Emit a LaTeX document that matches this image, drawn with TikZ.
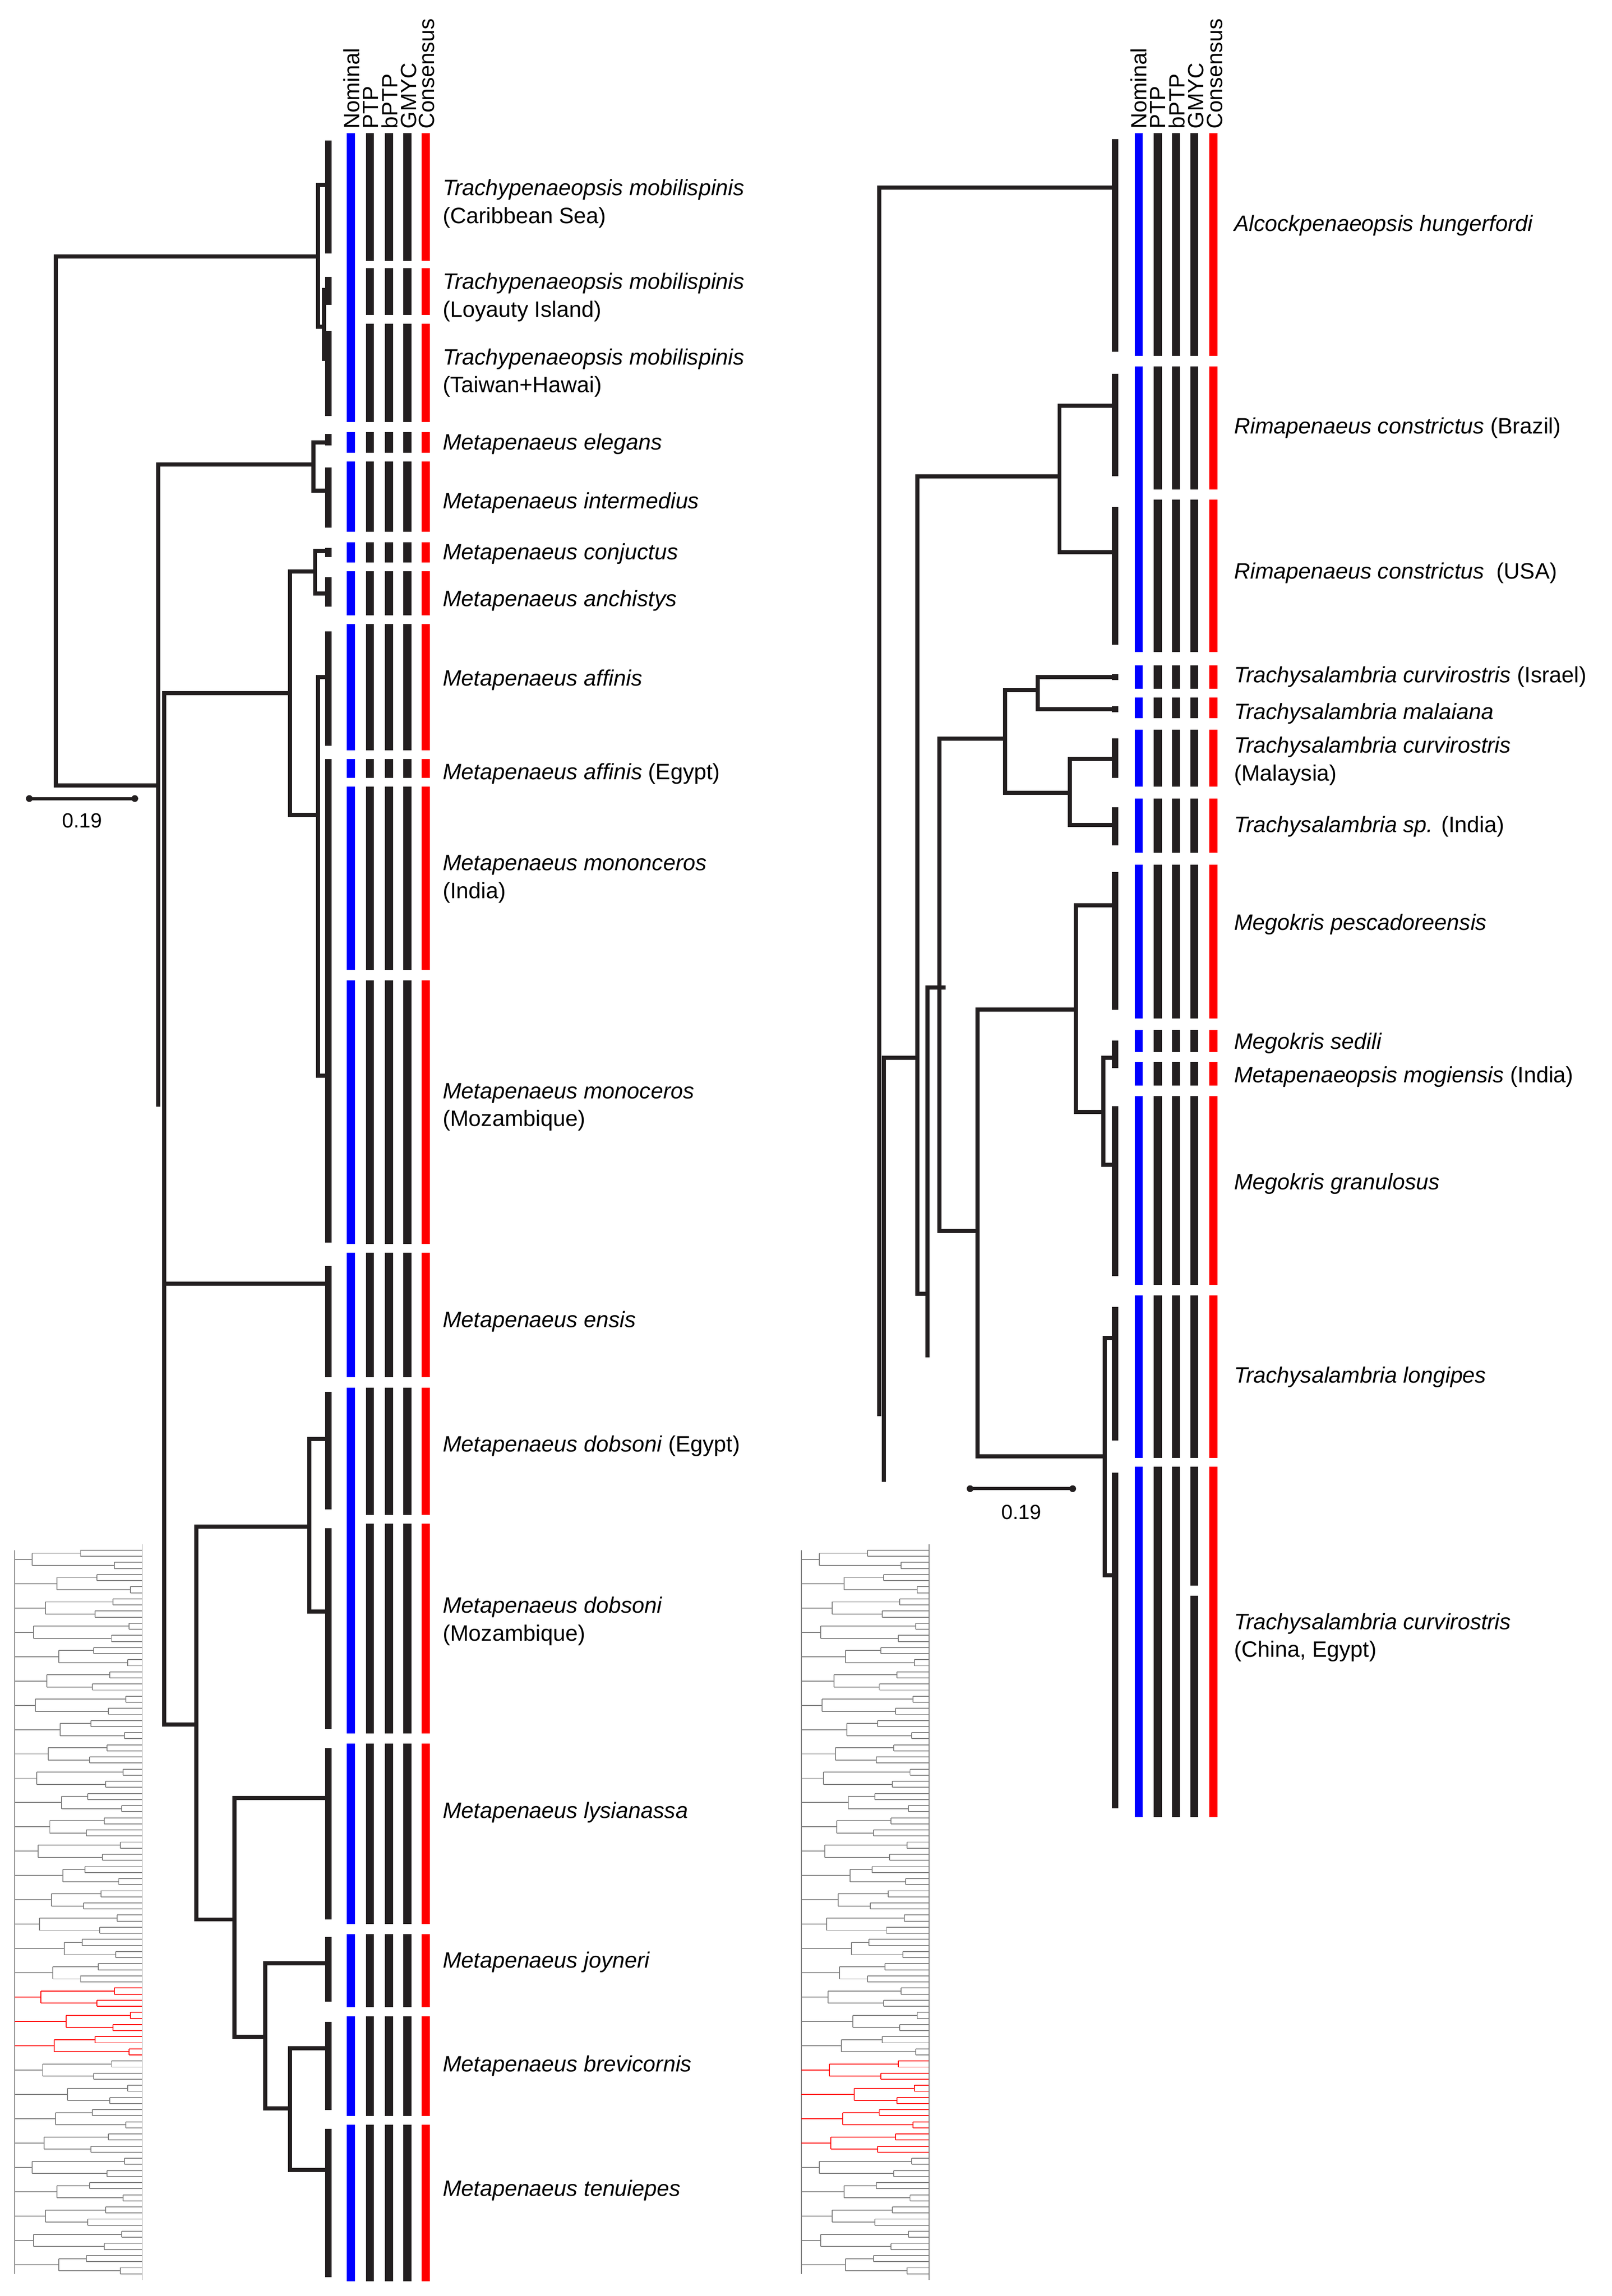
\documentclass[tikz,border=0pt]{standalone}
\usepackage{fontspec}
\setmainfont{Liberation Sans}
\definecolor{dk}{HTML}{231F20}
\definecolor{bl}{HTML}{0000FF}
\definecolor{rd}{HTML}{FF0000}
\begin{document}
\begin{tikzpicture}[x=1pt,y=-1pt,
  tr/.style={dk,line width=2.8pt,line cap=rect},
  comb/.style={dk,line width=4.5pt},
  bar/.style={line width=5.5pt},
  lab/.style={anchor=west,inner sep=0pt,font=\fontsize{15.2}{19}\selectfont\itshape,align=left},
  hd/.style={rotate=90,anchor=west,inner sep=0pt,font=\fontsize{15}{15}\selectfont},
  th/.style={gray,line width=0.6pt},
  thr/.style={rd,line width=0.6pt},
  sc/.style={dk,line width=2.2pt}]
\useasboundingbox (0,0) rectangle (1100,1567);
\newcommand\segs[3]{\foreach \a/\b in #3{\draw[bar,#2] (#1,\a)--(#1,\b);}}
\newcommand\thumb[3]{%
 \begin{scope}[xshift=#1]
 \draw[th] (10,1058)--(10,1552);
 \foreach \g in {0,...,29}{%
  \pgfmathtruncatemacro\isr{(\g>=#2)&&(\g<=#3)}%
  \ifnum\isr=1 \def\st{thr}\else\def\st{th}\fi
  \pgfmathsetmacro\xg{22+mod(\g*17,25)}%
  \pgfmathsetmacro\pa{2*\g}\pgfmathsetmacro\pb{2*\g+1}%
  \pgfmathsetmacro\xa{55+mod(\pa*23,35)}\pgfmathsetmacro\xb{55+mod(\pb*23,35)}%
  \pgfmathsetmacro\ya{1058+(4*\g)*4.15}\pgfmathsetmacro\yb{\ya+4.15}%
  \pgfmathsetmacro\yc{\ya+8.3}\pgfmathsetmacro\yd{\ya+12.45}%
  \pgfmathsetmacro\ma{\ya+2.07}\pgfmathsetmacro\mb{\yc+2.07}\pgfmathsetmacro\mg{\ya+6.22}%
  \draw[\st] (10,\mg)--(\xg,\mg) (\xg,\ma)--(\xg,\mb)
    (\xg,\ma)--(\xa,\ma) (\xa,\ya)--(\xa,\yb) (\xa,\ya)--(97,\ya) (\xa,\yb)--(97,\yb)
    (\xg,\mb)--(\xb,\mb) (\xb,\yc)--(\xb,\yd) (\xb,\yc)--(97,\yc) (\xb,\yd)--(97,\yd);
 }
 \draw[th] (97,1054)--(97,1556);
 \end{scope}}

% ================= LEFT PANEL =================
\node[hd] (hn1) at (240,88) {Nominal};
\node[hd] (hp1) at (253,88) {PTP};
\node[hd] (hb1) at (266,88) {bPTP};
\node[hd] (hg1) at (279,88) {GMYC};
\node[hd] (hc1) at (291,88) {Consensus};

\def\Lblue{91/288,295/309,315/363,370/384,390/420,426/512,518/531,537/662,669/849,855/940,947/1183,1190/1313,1320/1370,1376/1444,1450/1557}
\def\Lblack{91/178,183/215,221/288,295/309,315/363,370/384,390/420,426/512,518/531,537/662,669/849,855/940,947/1034,1040/1183,1190/1313,1320/1370,1376/1444,1450/1557}
\segs{239.5}{bl}{\Lblue}
\segs{252.5}{dk}{\Lblack}
\segs{265.5}{dk}{\Lblack}
\segs{278}{dk}{\Lblack}
\segs{290.5}{rd}{\Lblack}

% tree
\draw[tr] (38,175)--(38,536) (38,175)--(217,175) (38,536)--(108,536);
\draw[tr] (217,126)--(217,223) (217,126)--(224,126) (217,223)--(221,223) (221,198)--(221,245);
\draw[tr] (108,317)--(108,754) (108,317)--(214,317) (214,302)--(214,335) (214,302)--(225,302) (214,335)--(222,335);
\draw[tr] (112,473)--(112,1177) (112,473)--(198,473) (198,390)--(198,556) (198,390)--(215,390)
  (215,376)--(215,405) (215,376)--(225,376) (215,405)--(222,405)
  (198,556)--(217,556) (217,462)--(217,734) (217,462)--(222,462) (217,734)--(222,734);
\draw[tr] (112,876)--(222,876);
\draw[tr] (112,1177)--(134,1177) (134,1042)--(134,1310) (134,1042)--(211,1042) (211,982)--(211,1100)
  (211,982)--(222,982) (211,1100)--(222,1100)
  (134,1310)--(160,1310) (160,1227)--(160,1390) (160,1227)--(222,1227) (160,1390)--(181,1390)
  (181,1340)--(181,1439) (181,1340)--(222,1340) (181,1439)--(198,1439) (198,1398)--(198,1481)
  (198,1398)--(222,1398) (198,1481)--(222,1481);
\foreach \a/\b in {96/173,189/208,226/284,296/304,319/360,374/380,394/414,431/509,518/848,864/940,950/1030,1043/1180,1193/1310,1322/1366,1380/1440,1453/1554}
  {\draw[comb] (224,\a)--(224,\b);}
% scale bar
\draw[sc] (20,545)--(92,545); \fill[dk] (20,545) circle (2.3) (92,545) circle (2.3);
\node[inner sep=0pt,font=\fontsize{14}{14}\selectfont] (sl1) at (56,560) {0.19};

% labels left
\node[lab] (l1) at (302,139) {Trachypenaeopsis mobilispinis\\\upshape (Caribbean Sea)};
\node[lab] (l2) at (302,203) {Trachypenaeopsis mobilispinis\\\upshape (Loyauty Island)};
\node[lab] (l3) at (302,254.5) {Trachypenaeopsis mobilispinis\\\upshape (Taiwan+Hawai)};
\node[lab] (l4) at (302,303) {Metapenaeus elegans};
\node[lab] (l5) at (302,343) {Metapenaeus intermedius};
\node[lab] (l6) at (302,378) {Metapenaeus conjuctus};
\node[lab] (l7) at (302,410) {Metapenaeus anchistys};
\node[lab] (l8) at (302,464) {Metapenaeus affinis};
\node[lab] (l9) at (302,528) {Metapenaeus affinis \upshape(Egypt)};
\node[lab] (l10) at (302,600) {Metapenaeus mononceros\\\upshape (India)};
\node[lab] (l11) at (302,755.5) {Metapenaeus monoceros\\\upshape (Mozambique)};
\node[lab] (l12) at (302,902) {Metapenaeus ensis};
\node[lab] (l13) at (302,987) {Metapenaeus dobsoni \upshape(Egypt)};
\node[lab] (l14) at (302,1106.5) {Metapenaeus dobsoni\\\upshape (Mozambique)};
\node[lab] (l15) at (302,1237) {Metapenaeus lysianassa};
\node[lab] (l16) at (302,1339) {Metapenaeus joyneri};
\node[lab] (l17) at (302,1410) {Metapenaeus brevicornis};
\node[lab] (l18) at (302,1495) {Metapenaeus tenuiepes};

\thumb{0pt}{18}{20}

% ================= RIGHT PANEL =================
\node[hd] (hn2) at (777,88) {Nominal};
\node[hd] (hp2) at (790,88) {PTP};
\node[hd] (hb2) at (803,88) {bPTP};
\node[hd] (hg2) at (816,88) {GMYC};
\node[hd] (hc2) at (829,88) {Consensus};

\def\Rblue{91/243,250/445,454/470,476/490,498/537,545/582,590/695,703/718,725/741,748/877,884/995,1001/1240}
\def\Rblack{91/243,250/334,341/445,454/470,476/490,498/537,545/582,590/695,703/718,725/741,748/877,884/995,1001/1240}
\def\Rgmyc{91/243,250/334,341/445,454/470,476/490,498/537,545/582,590/695,703/718,725/741,748/877,884/995,1001/1082,1089/1240}
\segs{777}{bl}{\Rblue}
\segs{790}{dk}{\Rblack}
\segs{802.5}{dk}{\Rblack}
\segs{815}{dk}{\Rgmyc}
\segs{828}{rd}{\Rblack}

\draw[tr] (600,128)--(600,965) (600,128)--(759,128)
  (603,722)--(603,1010) (603,722)--(626,722)
  (626,325)--(626,883) (626,325)--(723,325) (723,277)--(723,377) (723,277)--(760,277) (723,377)--(760,377)
  (626,883)--(633,883) (633,674)--(633,925) (633,674)--(644,674)
  (641,504)--(641,840) (641,504)--(686,504) (686,471)--(686,541) (686,471)--(708,471)
  (708,462)--(708,484) (708,462)--(760,462) (708,484)--(760,484)
  (686,541)--(730,541) (730,518)--(730,563) (730,518)--(760,518) (730,563)--(760,563)
  (641,840)--(667,840) (667,689)--(667,994) (667,689)--(734,689) (734,618)--(734,759)
  (734,618)--(760,618) (734,759)--(753,759) (753,722)--(753,795) (753,722)--(760,722) (753,795)--(760,795)
  (667,994)--(754,994) (754,913)--(754,1075) (754,913)--(760,913) (754,1075)--(760,1075);
\foreach \a/\b in {95/240,255/325,346/440,460/464,482/486,504/531,551/577,595/689,710/729,755/871,892/983,1005/1234}
  {\draw[comb] (761,\a)--(761,\b);}
\draw[sc] (662,1016)--(732,1016); \fill[dk] (662,1016) circle (2.3) (732,1016) circle (2.3);
\node[inner sep=0pt,font=\fontsize{14}{14}\selectfont] (sl2) at (697,1032) {0.19};

\node[lab] (r1) at (842,154) {Alcockpenaeopsis hungerfordi};
\node[lab] (r2) at (842,292) {Rimapenaeus constrictus \upshape(Brazil)};
\node[lab] (r3) at (842,391) {Rimapenaeus constrictus \upshape\ (USA)};
\node[lab] (r4) at (842,462) {Trachysalambria curvirostris \upshape(Israel)};
\node[lab] (r5) at (842,487) {Trachysalambria malaiana};
\node[lab] (r6) at (842,519.5) {Trachysalambria curvirostris\\\upshape (Malaysia)};
\node[lab] (r7) at (842,564) {Trachysalambria sp. \upshape(India)};
\node[lab] (r8) at (842,631) {Megokris pescadoreensis};
\node[lab] (r9) at (842,712) {Megokris sedili};
\node[lab] (r10) at (842,735) {Metapenaeopsis mogiensis \upshape(India)};
\node[lab] (r11) at (842,808) {Megokris granulosus};
\node[lab] (r12) at (842,940) {Trachysalambria longipes};
\node[lab] (r13) at (842,1117.5) {Trachysalambria curvirostris\\\upshape (China, Egypt)};

\thumb{537pt}{21}{24}
\end{tikzpicture}
\end{document}
